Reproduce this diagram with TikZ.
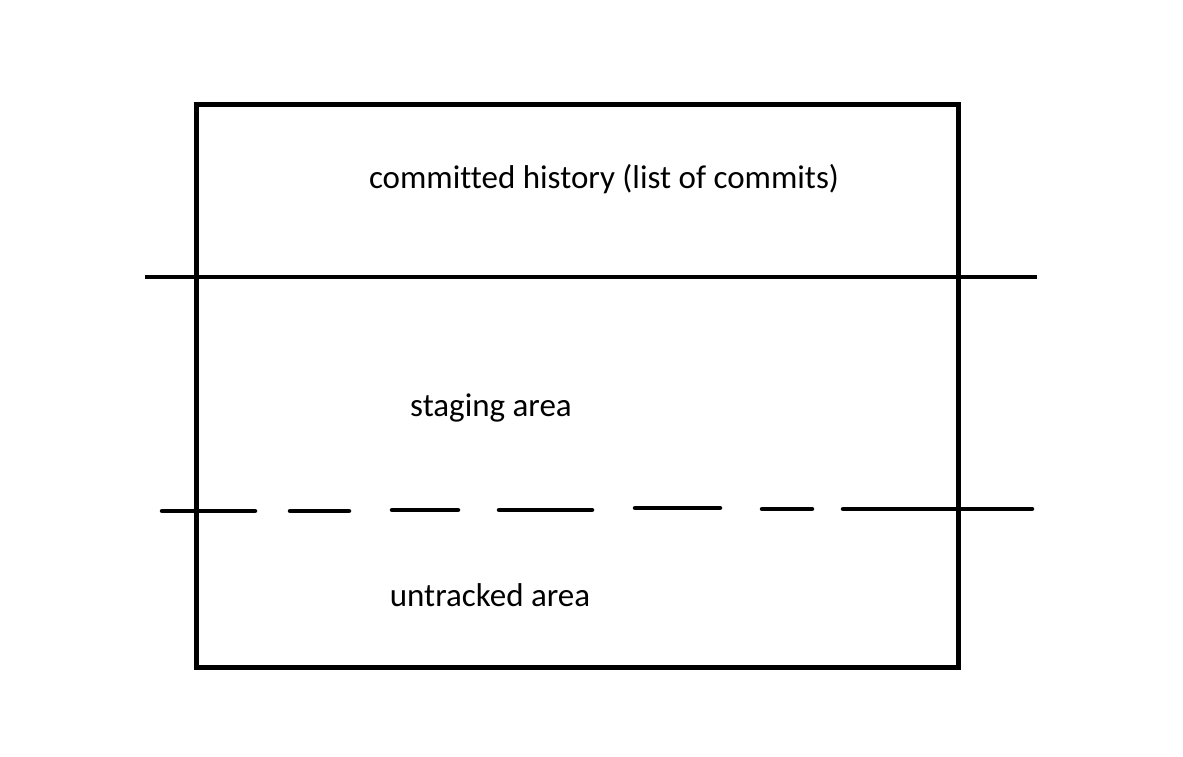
\documentclass[tikz,border=0pt]{standalone}
\usepackage{fontspec}
\setmainfont[Ligatures=NoCommon]{Carlito}
\begin{document}
\begin{tikzpicture}[x=1pt,y=-1pt,
  frame/.style={line width=5pt},
  divider/.style={line width=4.5pt},
  dashseg/.style={line width=4.5pt,line cap=round},
  label/.style={font=\fontsize{33}{38}\selectfont,inner sep=0pt}]
\useasboundingbox (0,0) rectangle (1183,757);
\draw[frame] (196,105) rectangle (958,667);
\draw[divider] (145,277) -- (1037,277);
\draw[dashseg] (162,511) -- (255,511);
\draw[dashseg] (290,511) -- (349,511);
\draw[dashseg] (392,510) -- (458,510);
\draw[dashseg] (499,510) -- (592,510);
\draw[dashseg] (635,508) -- (720,508);
\draw[dashseg] (762,509) -- (812,509);
\draw[dashseg] (843,509) -- (1032,509);
\node[label] (hist) at (604,179) {committed history (list of commits)};
\node[label] (stage) at (491,408) {staging area};
\node[label] (untr) at (490,595) {untracked area};
\end{tikzpicture}
\end{document}
